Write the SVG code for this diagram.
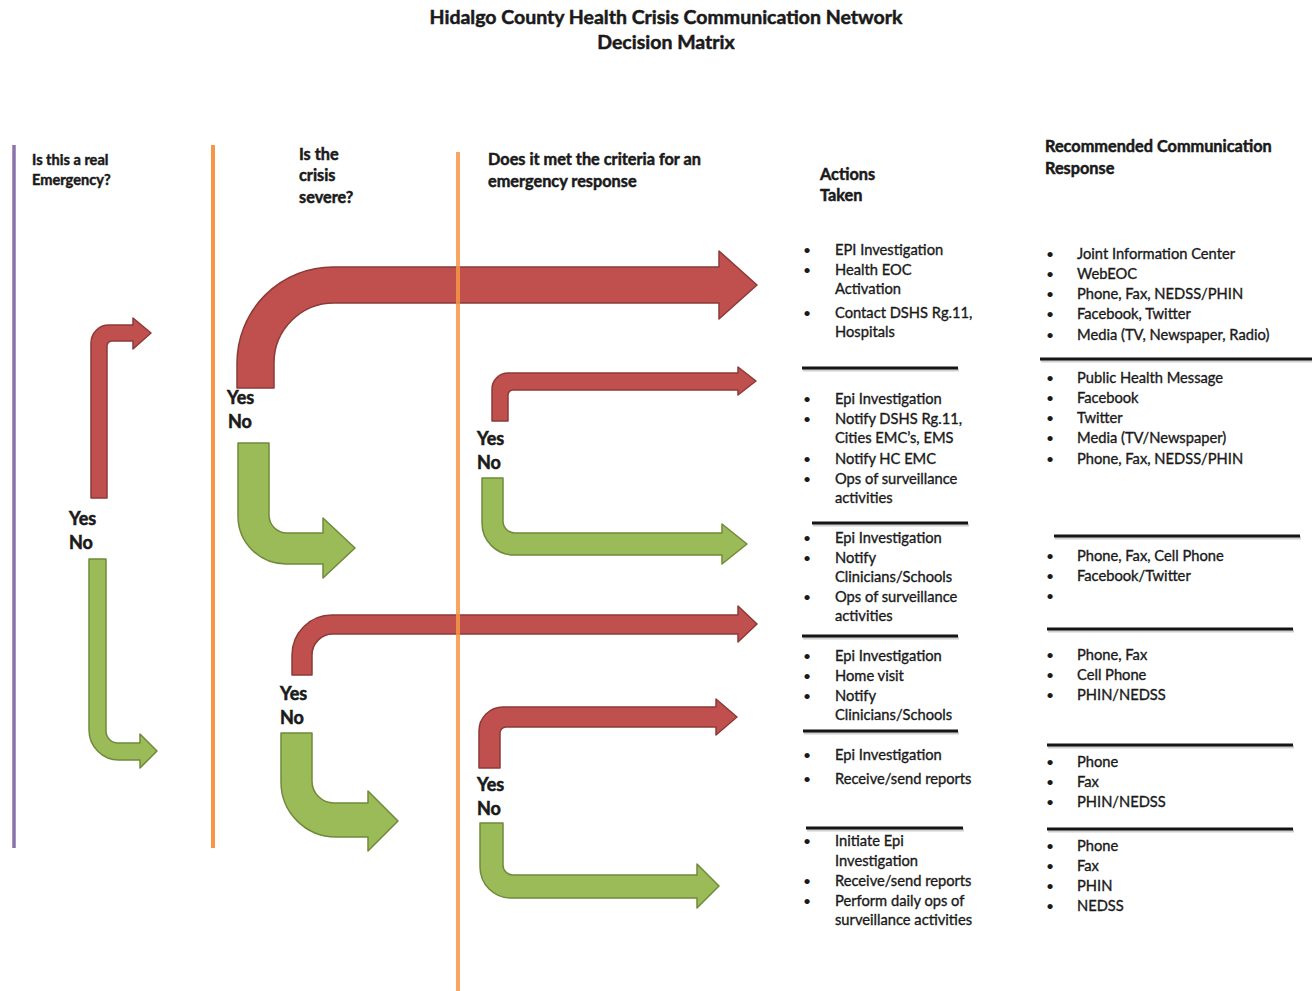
<svg xmlns="http://www.w3.org/2000/svg" width="1312" height="991" viewBox="0 0 1312 991">
  <defs>
    <style>
      text { font-family: Lato, "Open Sans", "Liberation Sans", sans-serif; fill: #1a1a1a; }
      .title { font-size: 19.5px; font-weight: bold; text-anchor: middle; stroke: #1a1a1a; stroke-width: 0.5; }
      .head { font-size: 16.3px; font-weight: bold; stroke: #1a1a1a; stroke-width: 0.5; }
      .head-sm { font-size: 14.6px; font-weight: bold; stroke: #1a1a1a; stroke-width: 0.45; }
      .yn { font-size: 18px; font-weight: bold; stroke: #1a1a1a; stroke-width: 0.55; }
      .item { font-size: 14.7px; stroke: #1a1a1a; stroke-width: 0.35; }
      .bul { font-size: 14px; }
      .red { fill: #c0504d; stroke: #8c3a38; stroke-width: 1.5; stroke-linejoin: round; }
      .green { fill: #9bbb59; stroke: #6f8a3a; stroke-width: 1.5; stroke-linejoin: round; }
      .rule { stroke: #151515; stroke-width: 3; }
      .rule-shadow { stroke: #000; stroke-width: 3; opacity: 0.18; }
      .col-purple { stroke: #8c72ad; stroke-width: 3.5; }
      .col-orange { stroke: #f79646; stroke-width: 4; }
    </style>
  </defs>

  <rect width="1312" height="991" fill="#ffffff"/>

  <!-- Title -->
  <g id="title">
    <text class="title" x="666" y="24">Hidalgo County Health Crisis Communication Network</text>
    <text class="title" x="666" y="49">Decision Matrix</text>
  </g>

  <!-- Column headers -->
  <g id="header-emergency">
    <text class="head-sm" x="32" y="165">Is this a real</text>
    <text class="head-sm" x="32" y="185">Emergency?</text>
  </g>
  <g id="header-severe">
    <text class="head" x="299" y="160">Is the</text>
    <text class="head" x="299" y="181">crisis</text>
    <text class="head" x="299" y="203">severe?</text>
  </g>
  <g id="header-criteria">
    <text class="head" x="488" y="165">Does it met the criteria for an</text>
    <text class="head" x="488" y="187">emergency response</text>
  </g>
  <g id="header-actions">
    <text class="head" x="820" y="180">Actions</text>
    <text class="head" x="820" y="201">Taken</text>
  </g>
  <g id="header-response">
    <text class="head" x="1045" y="152">Recommended Communication</text>
    <text class="head" x="1045" y="174">Response</text>
  </g>

  <!-- Decision arrows -->
  <g id="connectors">
    <path id="q1-yes" class="red" d="M91,498 L91,343 A18,18 0 0 1 109,325 L133,325 L133,318 L151,333 L133,349 L133,341 L112,341 A5,5 0 0 0 107,346 L107,498 Z"/>
    <path id="q1-no" class="green" d="M89,559 L106,559 L106,731 A12,12 0 0 0 118,743 L140,743 L140,734 L157,751 L140,768 L140,760 L119,760 A30,30 0 0 1 89,730 Z"/>
    <path id="q2a-yes" class="red" d="M237,388 L237,363 A96,96 0 0 1 333,267 L719,267 L719,251 L757,285 L719,319 L719,303 L334,303 A60,60 0 0 0 274,363 L274,388 Z"/>
    <path id="q2a-no" class="green" d="M238,443 L269,443 L269,515 A18,18 0 0 0 287,533 L323,533 L323,518 L355,548 L323,578 L323,564 L286,564 A48,48 0 0 1 238,516 Z"/>
    <path id="q3a-yes" class="red" d="M492,421 L492,389 A16,16 0 0 1 508,373 L738,373 L738,367 L756,381 L738,395 L738,390 L513,390 A5,5 0 0 0 508,395 L508,421 Z"/>
    <path id="q3a-no" class="green" d="M482,478 L503,478 L503,521 A12,12 0 0 0 515,533 L722,533 L722,524 L747,544 L722,564 L722,555 L514,555 A32,32 0 0 1 482,523 Z"/>
    <path id="q2b-yes" class="red" d="M292,675 L292,655 A40,40 0 0 1 332,615 L738,615 L738,606 L757,624 L738,642 L738,634 L333,634 A21,21 0 0 0 312,655 L312,675 Z"/>
    <path id="q2b-no" class="green" d="M281,733 L312,733 L312,781 A22,22 0 0 0 334,803 L368,803 L368,791 L398,821 L368,851 L368,837 L336,837 A55,55 0 0 1 281,782 Z"/>
    <path id="q3b-yes" class="red" d="M479,768 L479,731 A24,24 0 0 1 503,707 L716,707 L716,699 L737,717 L716,735 L716,727 L506,727 A6,6 0 0 0 500,733 L500,768 Z"/>
    <path id="q3b-no" class="green" d="M480,823 L503,823 L503,865 A10,10 0 0 0 513,875 L697,875 L697,864 L719,886 L697,908 L697,898 L511,898 A31,31 0 0 1 480,867 Z"/>
  </g>

  <!-- Column dividers -->
  <g id="dividers">
    <line class="col-purple" x1="14" y1="145" x2="14" y2="848"/>
    <line class="col-orange" x1="213" y1="145" x2="213" y2="848"/>
    <line class="col-orange" x1="458" y1="152" x2="458" y2="991" opacity="0.85"/>
  </g>

  <!-- Yes / No labels -->
  <g id="labels-q1">
    <text class="yn" x="69" y="525">Yes</text>
    <text class="yn" x="69" y="549">No</text>
  </g>
  <g id="labels-q2a">
    <text class="yn" x="227" y="404">Yes</text>
    <text class="yn" x="228" y="428">No</text>
  </g>
  <g id="labels-q3a">
    <text class="yn" x="477" y="445">Yes</text>
    <text class="yn" x="477" y="469">No</text>
  </g>
  <g id="labels-q2b">
    <text class="yn" x="280" y="700">Yes</text>
    <text class="yn" x="280" y="724">No</text>
  </g>
  <g id="labels-q3b">
    <text class="yn" x="477" y="791">Yes</text>
    <text class="yn" x="477" y="815">No</text>
  </g>

  <!-- Separator rules -->
  <g id="rules">
    <line class="rule-shadow" x1="803" y1="370" x2="959" y2="370"/>
    <line class="rule" x1="802" y1="368" x2="958" y2="368"/>
    <line class="rule-shadow" x1="813" y1="525" x2="969" y2="525"/>
    <line class="rule" x1="812" y1="523" x2="968" y2="523"/>
    <line class="rule-shadow" x1="803" y1="638" x2="959" y2="638"/>
    <line class="rule" x1="802" y1="636" x2="958" y2="636"/>
    <line class="rule-shadow" x1="804" y1="733" x2="959" y2="733"/>
    <line class="rule" x1="803" y1="731" x2="958" y2="731"/>
    <line class="rule-shadow" x1="807" y1="830" x2="964" y2="830"/>
    <line class="rule" x1="806" y1="828" x2="963" y2="828"/>

    <line class="rule-shadow" x1="1041" y1="361" x2="1312" y2="361"/>
    <line class="rule" x1="1040" y1="359" x2="1312" y2="359"/>
    <line class="rule-shadow" x1="1055" y1="538" x2="1301" y2="538"/>
    <line class="rule" x1="1054" y1="536" x2="1300" y2="536"/>
    <line class="rule-shadow" x1="1048" y1="631" x2="1294" y2="631"/>
    <line class="rule" x1="1047" y1="629" x2="1293" y2="629"/>
    <line class="rule-shadow" x1="1048" y1="747" x2="1294" y2="747"/>
    <line class="rule" x1="1047" y1="745" x2="1293" y2="745"/>
    <line class="rule-shadow" x1="1048" y1="831" x2="1294" y2="831"/>
    <line class="rule" x1="1047" y1="829" x2="1293" y2="829"/>
  </g>

  <!-- Actions taken -->
  <g id="actions-1">
    <text class="bul" x="803" y="255">•</text><text class="item" x="835" y="255">EPI Investigation</text>
    <text class="bul" x="803" y="275">•</text><text class="item" x="835" y="275">Health EOC</text>
    <text class="item" x="835" y="294">Activation</text>
    <text class="bul" x="803" y="318">•</text><text class="item" x="835" y="318">Contact DSHS Rg.11,</text>
    <text class="item" x="835" y="337">Hospitals</text>
  </g>
  <g id="actions-2">
    <text class="bul" x="803" y="404">•</text><text class="item" x="835" y="404">Epi Investigation</text>
    <text class="bul" x="803" y="424">•</text><text class="item" x="835" y="424">Notify DSHS Rg.11,</text>
    <text class="item" x="835" y="443">Cities EMC’s, EMS</text>
    <text class="bul" x="803" y="464">•</text><text class="item" x="835" y="464">Notify HC EMC</text>
    <text class="bul" x="803" y="484">•</text><text class="item" x="835" y="484">Ops of surveillance</text>
    <text class="item" x="835" y="503">activities</text>
  </g>
  <g id="actions-3">
    <text class="bul" x="803" y="543">•</text><text class="item" x="835" y="543">Epi Investigation</text>
    <text class="bul" x="803" y="563">•</text><text class="item" x="835" y="563">Notify</text>
    <text class="item" x="835" y="582">Clinicians/Schools</text>
    <text class="bul" x="803" y="602">•</text><text class="item" x="835" y="602">Ops of surveillance</text>
    <text class="item" x="835" y="621">activities</text>
  </g>
  <g id="actions-4">
    <text class="bul" x="803" y="661">•</text><text class="item" x="835" y="661">Epi Investigation</text>
    <text class="bul" x="803" y="681">•</text><text class="item" x="835" y="681">Home visit</text>
    <text class="bul" x="803" y="701">•</text><text class="item" x="835" y="701">Notify</text>
    <text class="item" x="835" y="720">Clinicians/Schools</text>
  </g>
  <g id="actions-5">
    <text class="bul" x="803" y="760">•</text><text class="item" x="835" y="760">Epi Investigation</text>
    <text class="bul" x="803" y="784">•</text><text class="item" x="835" y="784">Receive/send reports</text>
  </g>
  <g id="actions-6">
    <text class="bul" x="803" y="846">•</text><text class="item" x="835" y="846">Initiate Epi</text>
    <text class="item" x="835" y="866">Investigation</text>
    <text class="bul" x="803" y="886">•</text><text class="item" x="835" y="886">Receive/send reports</text>
    <text class="bul" x="803" y="906">•</text><text class="item" x="835" y="906">Perform daily ops of</text>
    <text class="item" x="835" y="925">surveillance activities</text>
  </g>

  <!-- Recommended communication response -->
  <g id="response-1">
    <text class="bul" x="1046" y="259">•</text><text class="item" x="1077" y="259">Joint Information Center</text>
    <text class="bul" x="1046" y="279">•</text><text class="item" x="1077" y="279">WebEOC</text>
    <text class="bul" x="1046" y="299">•</text><text class="item" x="1077" y="299">Phone, Fax, NEDSS/PHIN</text>
    <text class="bul" x="1046" y="319">•</text><text class="item" x="1077" y="319">Facebook, Twitter</text>
    <text class="bul" x="1046" y="340">•</text><text class="item" x="1077" y="340">Media (TV, Newspaper, Radio)</text>
  </g>
  <g id="response-2">
    <text class="bul" x="1046" y="383">•</text><text class="item" x="1077" y="383">Public Health Message</text>
    <text class="bul" x="1046" y="403">•</text><text class="item" x="1077" y="403">Facebook</text>
    <text class="bul" x="1046" y="423">•</text><text class="item" x="1077" y="423">Twitter</text>
    <text class="bul" x="1046" y="443">•</text><text class="item" x="1077" y="443">Media (TV/Newspaper)</text>
    <text class="bul" x="1046" y="464">•</text><text class="item" x="1077" y="464">Phone, Fax, NEDSS/PHIN</text>
  </g>
  <g id="response-3">
    <text class="bul" x="1046" y="561">•</text><text class="item" x="1077" y="561">Phone, Fax, Cell Phone</text>
    <text class="bul" x="1046" y="581">•</text><text class="item" x="1077" y="581">Facebook/Twitter</text>
    <text class="bul" x="1046" y="601">•</text>
  </g>
  <g id="response-4">
    <text class="bul" x="1046" y="660">•</text><text class="item" x="1077" y="660">Phone, Fax</text>
    <text class="bul" x="1046" y="680">•</text><text class="item" x="1077" y="680">Cell Phone</text>
    <text class="bul" x="1046" y="700">•</text><text class="item" x="1077" y="700">PHIN/NEDSS</text>
  </g>
  <g id="response-5">
    <text class="bul" x="1046" y="767">•</text><text class="item" x="1077" y="767">Phone</text>
    <text class="bul" x="1046" y="787">•</text><text class="item" x="1077" y="787">Fax</text>
    <text class="bul" x="1046" y="807">•</text><text class="item" x="1077" y="807">PHIN/NEDSS</text>
  </g>
  <g id="response-6">
    <text class="bul" x="1046" y="851">•</text><text class="item" x="1077" y="851">Phone</text>
    <text class="bul" x="1046" y="871">•</text><text class="item" x="1077" y="871">Fax</text>
    <text class="bul" x="1046" y="891">•</text><text class="item" x="1077" y="891">PHIN</text>
    <text class="bul" x="1046" y="911">•</text><text class="item" x="1077" y="911">NEDSS</text>
  </g>
</svg>
